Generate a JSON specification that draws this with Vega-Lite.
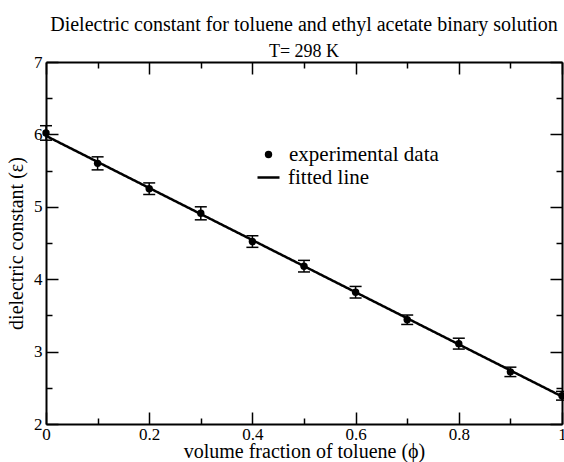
{
  "$schema": "https://vega.github.io/schema/vega-lite/v6.json",
  "width": 516,
  "height": 362,
  "autosize": {"type": "none"},
  "padding": {"left": 46, "top": 62, "right": 2, "bottom": 38},
  "background": "white",
  "config": {
    "view": {"stroke": null},
    "font": "Liberation Serif",
    "axis": {
      "domainColor": "black",
      "domainWidth": 2,
      "tickColor": "black",
      "tickWidth": 1.5,
      "labelFont": "Liberation Serif",
      "labelFontSize": 17,
      "labelColor": "black",
      "titleFont": "Liberation Serif",
      "titleFontSize": 20,
      "titleFontWeight": "normal",
      "titleColor": "black",
      "grid": false,
      "labelFlush": false,
      "labelOverlap": false
    },
    "legend": {
      "labelFont": "Liberation Serif",
      "labelFontSize": 21,
      "labelColor": "black",
      "padding": 0,
      "rowPadding": 0
    }
  },
  "title": {
    "text": "Dielectric constant for toluene and ethyl acetate binary solution",
    "subtitle": "T= 298 K",
    "font": "Liberation Serif",
    "fontSize": 20,
    "fontWeight": "normal",
    "color": "black",
    "subtitleFont": "Liberation Serif",
    "subtitleFontSize": 18,
    "subtitleColor": "black",
    "subtitlePadding": 8,
    "anchor": "middle",
    "offset": -8
  },
  "datasets": {
    "measured": [
      {"phi": 0.0, "eps": 6.02, "err": 0.10},
      {"phi": 0.1, "eps": 5.60, "err": 0.09},
      {"phi": 0.2, "eps": 5.25, "err": 0.08},
      {"phi": 0.3, "eps": 4.91, "err": 0.09},
      {"phi": 0.4, "eps": 4.52, "err": 0.08},
      {"phi": 0.5, "eps": 4.18, "err": 0.08},
      {"phi": 0.6, "eps": 3.82, "err": 0.08},
      {"phi": 0.7, "eps": 3.44, "err": 0.065},
      {"phi": 0.8, "eps": 3.11, "err": 0.075},
      {"phi": 0.9, "eps": 2.72, "err": 0.065},
      {"phi": 1.0, "eps": 2.39, "err": 0.06}
    ],
    "fit": [
      {"phi": 0.0, "eps": 5.98},
      {"phi": 1.0, "eps": 2.38}
    ]
  },
  "layer": [
    {
      "data": {"name": "measured"},
      "mark": {"type": "errorbar", "color": "black", "opacity": 1, "ticks": {"size": 12, "thickness": 1.5, "color": "black", "opacity": 1}, "rule": {"strokeWidth": 1.5, "color": "black", "opacity": 1}},
      "encoding": {
        "x": {"field": "phi", "type": "quantitative", "scale": {"domain": [0, 1], "nice": false, "zero": false}, "axis": null},
        "y": {"field": "eps", "type": "quantitative", "scale": {"domain": [2, 7], "nice": false, "zero": false}, "axis": null},
        "yError": {"field": "err"}
      }
    },
    {
      "data": {"name": "fit"},
      "mark": {"type": "line", "color": "black", "strokeWidth": 2.5},
      "encoding": {
        "x": {"field": "phi", "type": "quantitative", "axis": {
          "orient": "top", "labels": false, "title": null,
          "values": [0, 0.1, 0.2, 0.3, 0.4, 0.5, 0.6, 0.7, 0.8, 0.9, 1],
          "tickSize": {"condition": {"test": "round(datum.value*10) % 2 == 0", "value": -12}, "value": -6}
        }},
        "y": {"field": "eps", "type": "quantitative", "axis": {
          "orient": "right", "labels": false, "title": null,
          "values": [2, 2.5, 3, 3.5, 4, 4.5, 5, 5.5, 6, 6.5, 7],
          "tickSize": {"condition": {"test": "datum.value % 1 == 0", "value": -12}, "value": -6}
        }},
        "strokeDash": {
          "datum": "fitted line",
          "type": "nominal",
          "scale": {"domain": ["fitted line"], "range": [[1, 0]]},
          "legend": {
            "title": null,
            "orient": "none",
            "legendX": 210,
            "legendY": 103,
            "symbolType": "stroke",
            "symbolSize": 484,
            "symbolStrokeColor": "black",
            "symbolStrokeWidth": 2.5,
            "labelOffset": 7
          }
        }
      }
    },
    {
      "data": {"name": "measured"},
      "mark": {"type": "point", "filled": true, "size": 55, "color": "black", "opacity": 1},
      "encoding": {
        "x": {"field": "phi", "type": "quantitative", "axis": {
          "orient": "bottom", "title": "volume fraction of toluene (ϕ)",
          "values": [0, 0.1, 0.2, 0.3, 0.4, 0.5, 0.6, 0.7, 0.8, 0.9, 1],
          "labelExpr": "round(datum.value*10) % 2 == 0 ? format(datum.value, '~g') : ''",
          "tickSize": {"condition": {"test": "round(datum.value*10) % 2 == 0", "value": -12}, "value": -6},
          "labelPadding": 14,
          "titleBaseline": "alphabetic",
          "titleY": 33
        }},
        "y": {"field": "eps", "type": "quantitative", "axis": {
          "orient": "left", "title": "dielectric constant (ε)",
          "values": [2, 2.5, 3, 3.5, 4, 4.5, 5, 5.5, 6, 6.5, 7],
          "labelExpr": "datum.value % 1 == 0 ? format(datum.value, '~g') : ''",
          "tickSize": {"condition": {"test": "datum.value % 1 == 0", "value": -12}, "value": -6},
          "labelPadding": 16,
          "titleBaseline": "alphabetic",
          "titleX": -24,
          "titleAngle": -90
        }},
        "shape": {
          "datum": "experimental data",
          "type": "nominal",
          "scale": {"domain": ["experimental data"], "range": ["circle"]},
          "legend": {
            "title": null,
            "orient": "none",
            "legendX": 212,
            "legendY": 82,
            "symbolSize": 55,
            "symbolFillColor": "black",
            "symbolStrokeColor": "black",
            "symbolStrokeWidth": 0,
            "labelOffset": 10
          }
        }
      }
    }
  ],
  "resolve": {"axis": {"x": "independent", "y": "independent"}}
}
